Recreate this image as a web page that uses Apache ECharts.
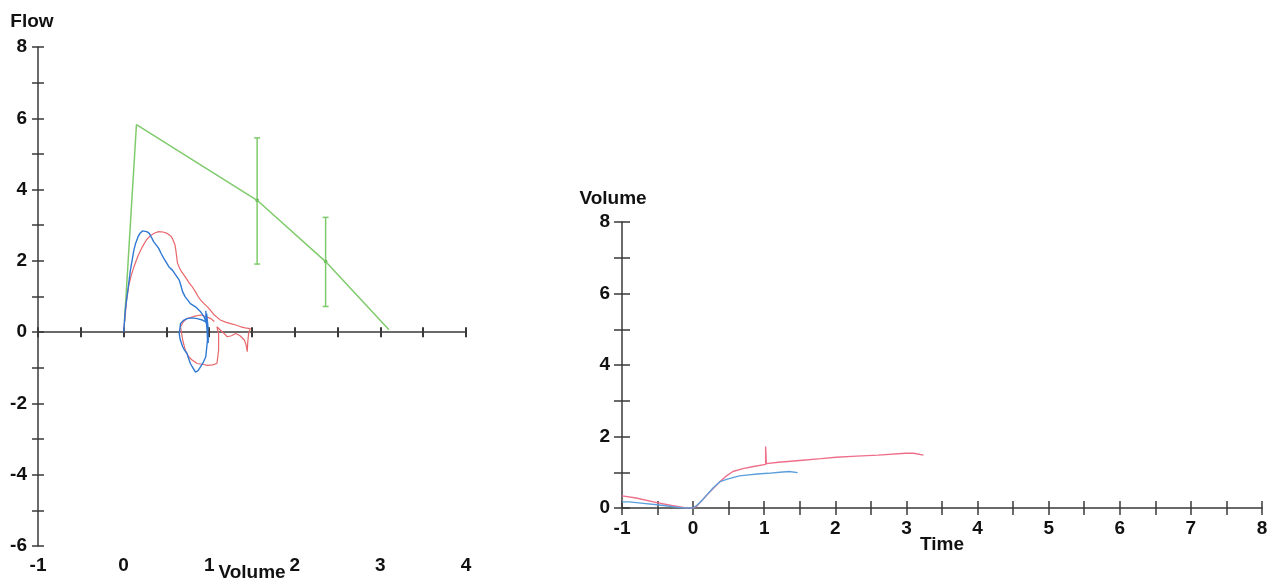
<!DOCTYPE html>
<html>
<head>
<meta charset="utf-8">
<script src="https://cdn.jsdelivr.net/npm/echarts@6/dist/echarts.min.js"></script>
<style>
  html, body { margin: 0; padding: 0; background: #fff; }
  #main { width: 1267px; height: 587px; }
</style>
</head>
<body>
<div id="main"></div>
<script>
// flow-volume loops, [volume, flow]
var loopRed = [
  [0,0],[0.02,0.5],[0.035,0.9],[0.06,1.3],[0.09,1.6],[0.12,1.83],[0.17,2.15],[0.22,2.40],
  [0.27,2.6],[0.32,2.72],[0.37,2.79],[0.41,2.82],[0.46,2.81],[0.51,2.77],[0.55,2.70],
  [0.57,2.63],[0.60,2.45],[0.61,2.30],[0.63,1.93],[0.665,1.74],[0.72,1.55],[0.77,1.37],
  [0.80,1.28],[0.84,1.13],[0.87,1.0],[0.90,0.90],[0.94,0.8],[0.98,0.71],[1.02,0.6],
  [1.06,0.48],[1.10,0.4],[1.13,0.34],[1.19,0.28],[1.25,0.24],[1.31,0.2],[1.37,0.15],
  [1.42,0.12],[1.48,0.10],[1.46,-0.04],[1.45,-0.3],[1.445,-0.55],[1.43,-0.35],[1.41,-0.22],
  [1.36,-0.1],[1.31,-0.04],[1.26,-0.1],[1.21,-0.13],[1.18,-0.05],[1.15,0.01],[1.12,0.08],
  [1.09,0.15],[1.11,-0.04],[1.11,-0.3],[1.11,-0.50],[1.10,-0.7],[1.09,-0.88],[1.04,-0.92],
  [0.98,-0.93],[0.92,-0.9],[0.86,-0.88],[0.80,-0.78],[0.76,-0.69],[0.72,-0.5],[0.69,-0.22],
  [0.665,0.15],[0.70,0.3],[0.74,0.38],[0.82,0.44],[0.90,0.48],[0.96,0.44],[1.02,0.38],[1.06,0.3]
];
var loopBlue = [
  [0,0],[0.01,0.3],[0.02,0.62],[0.04,1.0],[0.06,1.37],[0.08,1.75],[0.10,2.02],[0.12,2.3],
  [0.14,2.49],[0.17,2.68],[0.19,2.77],[0.22,2.84],[0.24,2.85],[0.27,2.82],[0.30,2.77],
  [0.33,2.64],[0.35,2.54],[0.38,2.45],[0.41,2.35],[0.44,2.2],[0.47,2.07],[0.50,1.95],
  [0.53,1.83],[0.57,1.74],[0.61,1.60],[0.65,1.46],[0.67,1.30],[0.69,1.13],[0.72,0.99],
  [0.75,0.9],[0.78,0.80],[0.84,0.71],[0.90,0.57],[0.94,0.43],[0.97,0.24],[0.96,0.6],
  [0.98,-0.1],[0.96,0.5],[0.99,-0.3],[0.97,0.35],[0.98,-0.22],[0.96,-0.69],[0.93,-0.85],
  [0.90,-0.97],[0.87,-1.08],[0.84,-1.12],[0.81,-1.0],[0.78,-0.88],[0.76,-0.74],[0.74,-0.60],
  [0.71,-0.5],[0.69,-0.41],[0.66,-0.2],[0.65,-0.04],[0.665,0.24],[0.70,0.33],[0.74,0.38],
  [0.80,0.40],[0.86,0.38],[0.92,0.34],[0.96,0.29],[0.99,0.06],[0.97,0.52],[0.99,-0.22],[0.98,0.1]
];
// predicted curve and limits
var predVolume = [0.01, 0.15, 1.56, 2.36, 3.10];
var predFlow = [0.3, 5.82, 3.70, 1.98, 0.07];
var limitVolume = [1.56, 2.36];
var limitLow = [1.91, 0.72];
var limitHigh = [5.45, 3.22];

// volume-time curves, [time, volume]
var timeRed = [
  [-1,0.34],[-0.8,0.28],[-0.51,0.15],[-0.3,0.07],[-0.1,0.0],[0,0],[0.05,0.05],[0.12,0.2],
  [0.2,0.38],[0.3,0.58],[0.38,0.74],[0.47,0.9],[0.56,1.02],[0.7,1.1],[0.85,1.16],[1.02,1.22],
  [1.02,1.72],[1.03,1.24],[1.2,1.28],[1.5,1.33],[1.8,1.38],[2.01,1.42],[2.3,1.45],[2.6,1.48],
  [2.99,1.53],[3.1,1.53],[3.24,1.48]
];
var timeBlue = [
  [-1,0.17],[-0.9,0.17],[-0.7,0.13],[-0.51,0.09],[-0.3,0.04],[-0.14,0.0],[0,0],[0.05,0.07],
  [0.12,0.2],[0.19,0.36],[0.28,0.56],[0.38,0.74],[0.47,0.8],[0.56,0.85],[0.65,0.9],[0.75,0.92],
  [0.9,0.95],[1.05,0.97],[1.22,1.0],[1.35,1.02],[1.47,0.99]
];

var axisColor = '#3a3a3a';
var font = {fontFamily: 'Liberation Sans', fontWeight: 'bold', fontSize: 19, color: '#111'};
var nameFont = {fontFamily: 'Liberation Sans', fontWeight: 'bold', fontSize: 19, color: '#111'};
var green = '#7fcb6c';

function evenLabel(v) { return v % 2 === 0 ? String(v) : ''; }
function intLabel(v) { return Number.isInteger(v) ? String(v) : ''; }

var limits = limitVolume.map(function (v, i) { return [v, limitLow[i], limitHigh[i]]; });

var myChart = echarts.init(document.getElementById('main'));
var option = {
    animation: false,
    backgroundColor: '#fff',
    grid: [
        {left: 38, top: 47, width: 428, height: 499, outerBoundsMode: 'none'},
        {left: 622, top: 222, width: 640, height: 286, outerBoundsMode: 'none'}
    ],
    xAxis: [
        // left: labels at the bottom
        {gridIndex: 0, type: 'value', position: 'bottom', min: -1, max: 4, interval: 1,
         axisLine: {show: false, onZero: false}, axisTick: {show: false}, splitLine: {show: false},
         axisLabel: Object.assign({margin: 10}, font),
         name: 'Volume', nameLocation: 'middle', nameGap: 17, nameMoveOverlap: false, nameTextStyle: nameFont},
        // left: line on zero, ticks both sides
        {gridIndex: 0, type: 'value', position: 'bottom', min: -1, max: 4, interval: 0.5,
         axisLine: {show: true, onZero: true, onZeroAxisIndex: 0, lineStyle: {color: axisColor, width: 1.5}},
         axisTick: {show: true, inside: false, length: 5, lineStyle: {color: axisColor, width: 2}},
         axisLabel: {show: false}, splitLine: {show: false}},
        {gridIndex: 0, type: 'value', position: 'bottom', min: -1, max: 4, interval: 0.5,
         axisLine: {show: false, onZero: true, onZeroAxisIndex: 0},
         axisTick: {show: true, inside: true, length: 5, lineStyle: {color: axisColor, width: 2}},
         axisLabel: {show: false}, splitLine: {show: false}},
        // right
        {gridIndex: 1, type: 'value', position: 'bottom', min: -1, max: 8, interval: 0.5,
         axisLine: {show: true, onZero: false, lineStyle: {color: axisColor, width: 1.5}},
         axisTick: {show: true, inside: false, length: 7, lineStyle: {color: axisColor, width: 1.5}},
         axisLabel: Object.assign({margin: 11, formatter: intLabel}, font), splitLine: {show: false},
         name: 'Time', nameLocation: 'middle', nameGap: 27, nameMoveOverlap: false, nameTextStyle: nameFont},
        {gridIndex: 1, type: 'value', position: 'bottom', min: -1, max: 8, interval: 0.5,
         axisLine: {show: false, onZero: false},
         axisTick: {show: true, inside: true, length: 7, lineStyle: {color: axisColor, width: 1.5}},
         axisLabel: {show: false}, splitLine: {show: false}}
    ],
    yAxis: [
        {gridIndex: 0, type: 'value', position: 'left', min: -6, max: 8, interval: 1,
         axisLine: {show: true, onZero: false, lineStyle: {color: axisColor, width: 1.5}},
         axisTick: {show: true, inside: false, length: 6, lineStyle: {color: axisColor, width: 1.5}},
         axisLabel: Object.assign({margin: 11, formatter: evenLabel}, font), splitLine: {show: false},
         name: 'Flow', nameLocation: 'end', nameGap: 16, nameMoveOverlap: false,
         nameTextStyle: Object.assign({align: 'center', padding: [0, 0, 0, -12]}, nameFont)},
        {gridIndex: 0, type: 'value', position: 'left', min: -6, max: 8, interval: 1,
         axisLine: {show: false, onZero: false},
         axisTick: {show: true, inside: true, length: 6, lineStyle: {color: axisColor, width: 1.5}},
         axisLabel: {show: false}, splitLine: {show: false}},
        {gridIndex: 1, type: 'value', position: 'left', min: 0, max: 8, interval: 1,
         axisLine: {show: true, onZero: false, lineStyle: {color: axisColor, width: 1.5}},
         axisTick: {show: true, inside: false, length: 8, lineStyle: {color: axisColor, width: 1.5}},
         axisLabel: Object.assign({margin: 12, formatter: evenLabel}, font), splitLine: {show: false},
         name: 'Volume', nameLocation: 'end', nameGap: 14, nameMoveOverlap: false,
         nameTextStyle: Object.assign({align: 'center', padding: [0, 0, 0, -18]}, nameFont)},
        {gridIndex: 1, type: 'value', position: 'left', min: 0, max: 8, interval: 1,
         axisLine: {show: false, onZero: false},
         axisTick: {show: true, inside: true, length: 8, lineStyle: {color: axisColor, width: 1.5}},
         axisLabel: {show: false}, splitLine: {show: false}}
    ],
    series: [
        {type: 'line', xAxisIndex: 0, yAxisIndex: 0, showSymbol: false,
         data: predVolume.map(function (v, i) { return [v, predFlow[i]]; }),
         symbol: 'circle', symbolSize: 3,
         lineStyle: {color: green, width: 1.5}, itemStyle: {color: '#5aa84a'}},
        {type: 'custom', xAxisIndex: 0, yAxisIndex: 0, data: limits,
         encode: {x: 0, y: [1, 2]},
         renderItem: function (params, api) {
             var x = api.value(0);
             var top = api.coord([x, api.value(2)]);
             var bot = api.coord([x, api.value(1)]);
             var mid = api.coord([x, predFlow[predVolume.indexOf(x)]]);
             var st = {stroke: green, lineWidth: 1.5};
             return {type: 'group', children: [
                 {type: 'line', shape: {x1: top[0], y1: top[1], x2: bot[0], y2: bot[1]}, style: st},
                 {type: 'line', shape: {x1: top[0] - 3, y1: top[1], x2: top[0] + 3, y2: top[1]}, style: st},
                 {type: 'line', shape: {x1: bot[0] - 3, y1: bot[1], x2: bot[0] + 3, y2: bot[1]}, style: st},
                 {type: 'circle', shape: {cx: mid[0], cy: mid[1], r: 1.8}, style: {fill: '#5aa84a'}}
             ]};
         }},
        {type: 'line', xAxisIndex: 0, yAxisIndex: 0, showSymbol: false, data: loopRed,
         lineStyle: {color: '#e8676b', width: 1.2}},
        {type: 'line', xAxisIndex: 0, yAxisIndex: 0, showSymbol: false, data: loopBlue,
         lineStyle: {color: '#2f79d4', width: 1.4}},
        {type: 'line', xAxisIndex: 3, yAxisIndex: 2, showSymbol: false, data: timeRed,
         lineStyle: {color: '#ef6f8a', width: 1.4}},
        {type: 'line', xAxisIndex: 3, yAxisIndex: 2, showSymbol: false, data: timeBlue,
         lineStyle: {color: '#5b9fdc', width: 1.4}}
    ]
};
myChart.setOption(option);
</script>
</body>
</html>
